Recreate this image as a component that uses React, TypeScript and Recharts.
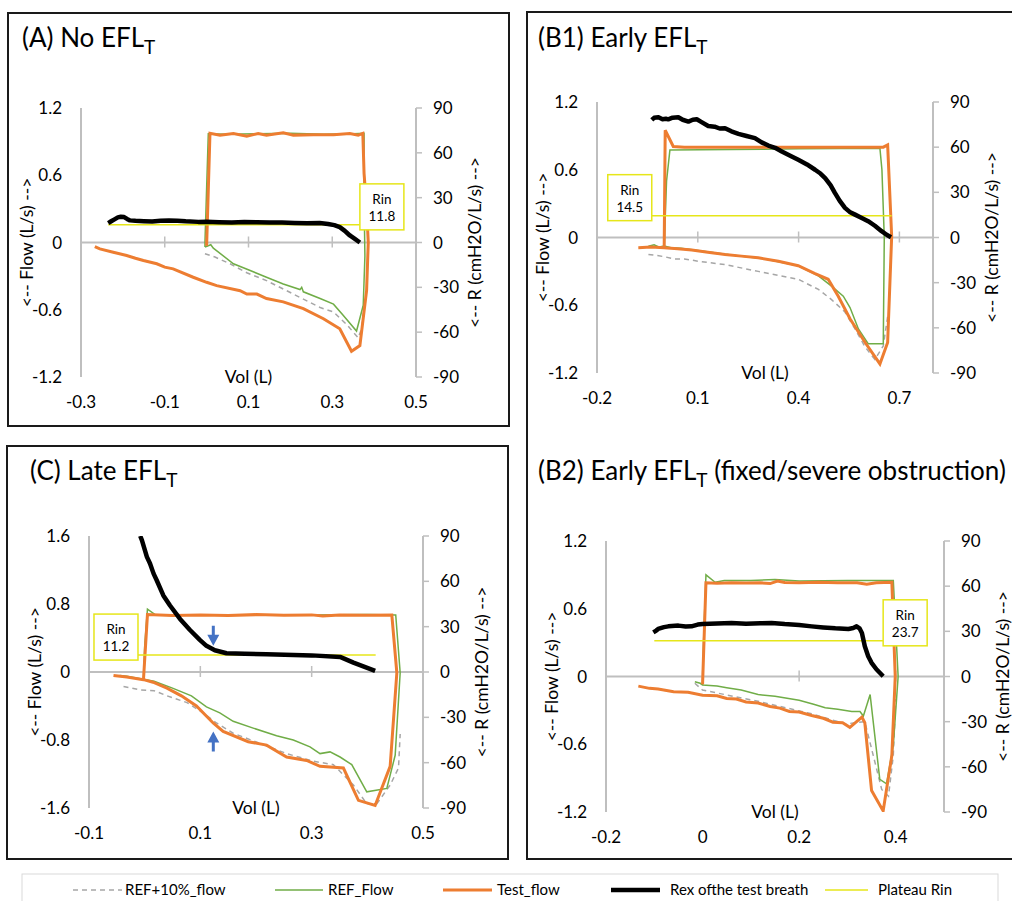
import React from "react";
import { ComposedChart, Line, XAxis, YAxis, ReferenceLine, ReferenceDot } from "recharts";

type P = [number, number];

// ---- (A) No EFL ----
const aRef10: P[] = [[-0.004, -0.1], [0.02, -0.13], [0.056, -0.19], [0.096, -0.27], [0.143, -0.34], [0.191, -0.43], [0.223, -0.49], [0.271, -0.58], [0.303, -0.62], [0.334, -0.73], [0.362, -0.85], [0.37, -0.77], [0.378, -0.52]];
const aRef: P[] = [[-0.004, -0.04], [-0.004, 0.0], [0.004, 0.97], [0.05, 0.965], [0.12, 0.97], [0.2, 0.975], [0.28, 0.965], [0.35, 0.97], [0.376, 0.975], [0.376, 0.38], [0.378, -0.12], [0.374, -0.56], [0.358, -0.79], [0.326, -0.65], [0.303, -0.55], [0.271, -0.5], [0.231, -0.44], [0.227, -0.4], [0.223, -0.42], [0.183, -0.37], [0.143, -0.31], [0.104, -0.25], [0.064, -0.19], [0.016, -0.05], [0.01, -0.02], [-0.004, -0.04]];
const aTest: P[] = [[0.0, -0.03], [0.008, 0.975], [0.032, 0.958], [0.064, 0.973], [0.096, 0.949], [0.123, 0.973], [0.143, 0.958], [0.183, 0.979], [0.207, 0.958], [0.255, 0.961], [0.303, 0.961], [0.342, 0.973], [0.362, 0.958], [0.373, 0.973], [0.376, 0.615], [0.382, 0.316], [0.386, 0.0], [0.382, -0.43], [0.366, -0.92], [0.346, -0.97], [0.318, -0.77], [0.279, -0.68], [0.231, -0.59], [0.183, -0.53], [0.143, -0.5], [0.12, -0.46], [0.096, -0.46], [0.08, -0.43], [0.024, -0.385], [0.0, -0.355], [-0.032, -0.31], [-0.08, -0.235], [-0.1, -0.22], [-0.119, -0.19], [-0.151, -0.16], [-0.17, -0.14], [-0.191, -0.116], [-0.223, -0.087], [-0.255, -0.057], [-0.267, -0.036]];
const aRex: P[] = [[-0.235, 13.0], [-0.228, 14.2], [-0.22, 15.5], [-0.212, 16.8], [-0.205, 17.2], [-0.197, 17.0], [-0.19, 15.8], [-0.183, 14.8], [-0.17, 14.5], [-0.15, 14.2], [-0.13, 14.0], [-0.11, 14.5], [-0.09, 14.8], [-0.07, 14.6], [-0.05, 14.2], [-0.02, 13.8], [0.0, 13.9], [0.03, 13.6], [0.06, 13.4], [0.09, 13.7], [0.12, 13.5], [0.15, 13.3], [0.18, 13.4], [0.21, 13.1], [0.24, 12.9], [0.27, 13.0], [0.29, 12.4], [0.305, 11.6], [0.318, 10.3], [0.33, 7.8], [0.342, 4.7], [0.354, 2.4], [0.366, 0.0]];
const aRinVal = 11.8;
const aRin: P[] = [[-0.235, 11.8], [0.366, 11.8]];

// ---- (B1) Early EFL ----
const b1Ref10: P[] = [[-0.047, -0.15], [-0.02, -0.16], [0.0, -0.17], [0.032, -0.19], [0.06, -0.19], [0.101, -0.21], [0.181, -0.24], [0.28, -0.3], [0.399, -0.37], [0.459, -0.46], [0.498, -0.55], [0.538, -0.66], [0.568, -0.81], [0.598, -0.97], [0.627, -1.08], [0.652, -0.96], [0.665, -0.7]];
const b1Ref: P[] = [[-0.047, -0.077], [-0.03, -0.065], [-0.015, -0.085], [0.0, -0.075], [0.007, 0.5], [0.017, 0.776], [0.2, 0.78], [0.4, 0.785], [0.642, 0.79], [0.648, 0.6], [0.655, 0.0], [0.652, -0.94], [0.607, -0.94], [0.578, -0.81], [0.553, -0.62], [0.533, -0.52], [0.498, -0.43], [0.459, -0.34], [0.399, -0.25], [0.3, -0.19], [0.2, -0.155], [0.1, -0.115], [0.05, -0.095], [0.02, -0.09], [0.0, -0.075]];
const b1Test: P[] = [[0.0, -0.08], [0.003, 0.95], [0.027, 0.806], [0.06, 0.8], [0.15, 0.8], [0.3, 0.8], [0.45, 0.8], [0.6, 0.8], [0.652, 0.8], [0.665, 0.82], [0.677, 0.01], [0.665, -0.93], [0.642, -1.12], [0.598, -0.93], [0.553, -0.72], [0.518, -0.52], [0.488, -0.37], [0.449, -0.32], [0.399, -0.25], [0.34, -0.21], [0.28, -0.18], [0.23, -0.165], [0.181, -0.15], [0.13, -0.13], [0.082, -0.11], [0.04, -0.1], [0.0, -0.09], [-0.04, -0.085], [-0.077, -0.09]];
const b1Rex: P[] = [[-0.037, 78.1], [-0.03, 79.5], [-0.017, 79.9], [-0.005, 78.6], [0.005, 78.9], [0.012, 78.5], [0.025, 79.6], [0.042, 79.9], [0.055, 78.2], [0.072, 77.0], [0.085, 78.2], [0.097, 78.5], [0.11, 76.8], [0.131, 74.1], [0.15, 73.6], [0.165, 72.4], [0.181, 72.6], [0.2, 70.5], [0.221, 68.8], [0.245, 67.4], [0.27, 66.0], [0.29, 63.2], [0.31, 61.1], [0.33, 59.6], [0.35, 57.1], [0.375, 54.3], [0.399, 51.6], [0.425, 48.5], [0.449, 45.0], [0.465, 42.5], [0.479, 39.5], [0.495, 34.8], [0.508, 29.6], [0.522, 24.5], [0.538, 19.7], [0.552, 17.0], [0.568, 15.2], [0.588, 13.0], [0.607, 10.8], [0.627, 7.8], [0.647, 4.2], [0.662, 1.8], [0.675, 0.2]];
const b1RinVal = 14.5;
const b1Rin: P[] = [[-0.037, 14.5], [0.677, 14.5]];

// ---- (C) Late EFL ----
const cRef10: P[] = [[-0.038, -0.17], [-0.008, -0.21], [0.017, -0.22], [0.04, -0.28], [0.076, -0.36], [0.105, -0.48], [0.129, -0.6], [0.159, -0.72], [0.207, -0.84], [0.255, -0.96], [0.303, -1.05], [0.339, -1.09], [0.375, -1.33], [0.399, -1.55], [0.417, -1.55], [0.441, -1.33], [0.456, -1.13], [0.459, -0.73]];
const cRef: P[] = [[-0.045, -0.04], [-0.032, -0.05], [0.017, -0.11], [0.05, -0.19], [0.084, -0.28], [0.111, -0.41], [0.135, -0.48], [0.159, -0.58], [0.195, -0.66], [0.237, -0.75], [0.267, -0.8], [0.297, -0.88], [0.315, -0.96], [0.333, -0.94], [0.351, -1.0], [0.372, -1.09], [0.399, -1.41], [0.435, -1.37], [0.45, -0.98], [0.459, -0.01], [0.451, 0.67], [0.4, 0.675], [0.3, 0.67], [0.2, 0.675], [0.1, 0.67], [0.02, 0.67], [0.005, 0.74], [0.0, 0.3], [-0.002, -0.06]];
const cTest: P[] = [[-0.002, -0.075], [0.005, 0.676], [0.05, 0.665], [0.1, 0.67], [0.15, 0.665], [0.2, 0.675], [0.25, 0.668], [0.3, 0.672], [0.32, 0.66], [0.35, 0.672], [0.4, 0.668], [0.444, 0.67], [0.453, -0.01], [0.441, -1.11], [0.414, -1.57], [0.384, -1.51], [0.357, -1.13], [0.315, -1.11], [0.291, -1.04], [0.255, -1.0], [0.219, -0.86], [0.186, -0.82], [0.141, -0.7], [0.123, -0.6], [0.093, -0.4], [0.066, -0.28], [0.04, -0.19], [0.015, -0.12], [-0.002, -0.09], [-0.032, -0.06], [-0.056, -0.04]];
const cRex: P[] = [[-0.008, 90], [-0.005, 87.3], [0.004, 76.2], [0.0096, 71.8], [0.016, 65.1], [0.0216, 60.7], [0.0335, 50.7], [0.0455, 44.0], [0.0635, 35.1], [0.0814, 27.8], [0.099, 21.3], [0.111, 17.3], [0.126, 14.4], [0.147, 12.4], [0.18, 12.0], [0.219, 11.8], [0.3, 11.0], [0.351, 10.0], [0.375, 6.2], [0.414, 0.7]];
const cRinVal = 11.2;
const cRin: P[] = [[-0.012, 11.2], [0.415, 11.2]];
const cArrowDown: P = [0.1233, 17.3];
const cArrowUp: P = [0.1233, -0.7];

// ---- (B2) Early EFL (fixed/severe obstruction) ----
const b2Ref10: P[] = [[-0.016, -0.06], [0.0, -0.12], [0.115, -0.22], [0.226, -0.33], [0.296, -0.42], [0.336, -0.4], [0.371, -1.0], [0.385, -1.06], [0.395, -0.7], [0.4, -0.2]];
const b2Ref: P[] = [[-0.016, -0.047], [-0.005, -0.06], [0.0, -0.075], [0.03, -0.085], [0.05, -0.1], [0.08, -0.12], [0.115, -0.16], [0.15, -0.175], [0.2, -0.21], [0.23, -0.245], [0.254, -0.276], [0.28, -0.29], [0.309, -0.31], [0.326, -0.31], [0.333, -0.35], [0.347, -0.16], [0.367, -0.91], [0.381, -0.95], [0.395, -0.61], [0.405, 0.0], [0.395, 0.85], [0.3, 0.85], [0.2, 0.845], [0.15, 0.86], [0.1, 0.85], [0.045, 0.85], [0.026, 0.835], [0.007, 0.9], [0.002, 0.3], [0.0, -0.075]];
const b2Test: P[] = [[0.0, -0.07], [0.007, 0.83], [0.03, 0.825], [0.06, 0.83], [0.09, 0.828], [0.12, 0.83], [0.14, 0.823], [0.155, 0.845], [0.17, 0.832], [0.2, 0.83], [0.24, 0.835], [0.28, 0.83], [0.32, 0.83], [0.34, 0.818], [0.36, 0.83], [0.392, 0.835], [0.399, 0.0], [0.392, -0.7], [0.374, -1.19], [0.35, -1.01], [0.336, -0.41], [0.33, -0.36], [0.319, -0.4], [0.305, -0.45], [0.29, -0.41], [0.27, -0.405], [0.25, -0.37], [0.226, -0.345], [0.2, -0.315], [0.18, -0.31], [0.16, -0.28], [0.14, -0.265], [0.115, -0.235], [0.09, -0.225], [0.07, -0.2], [0.05, -0.195], [0.03, -0.17], [0.0, -0.165], [-0.03, -0.14], [-0.06, -0.135], [-0.092, -0.11], [-0.11, -0.105], [-0.133, -0.085]];
const b2Rex: P[] = [[-0.102, 29.3], [-0.096, 30.5], [-0.092, 31.6], [-0.08, 32.8], [-0.071, 33.3], [-0.05, 33.8], [-0.035, 33.2], [-0.023, 33.3], [-0.01, 34.5], [0.0, 34.9], [0.03, 35.2], [0.06, 35.5], [0.09, 35.0], [0.12, 35.3], [0.143, 35.6], [0.17, 34.8], [0.2, 34.2], [0.226, 33.3], [0.25, 32.6], [0.275, 32.0], [0.302, 31.6], [0.312, 32.2], [0.319, 33.3], [0.325, 32.0], [0.33, 28.9], [0.336, 20.1], [0.343, 13.5], [0.35, 9.1], [0.36, 4.8], [0.374, 0.2]];
const b2RinVal = 23.7;
const b2Rin: P[] = [[-0.1, 23.7], [0.374, 23.7]];

const rTicks = [-90, -60, -30, 0, 30, 60, 90];

const FONT = "Lato, 'Open Sans', sans-serif";
const AXIS = "#bfbfbf";
const GRAY = "#a6a6a6";
const GREEN = "#70ad47";
const ORANGE = "#ed7d31";
const YELLOW = "#e6e61a";
const BLUE = "#4472c4";

const toPts = (a: P[]) => a.map(([v, y]) => ({ v, y }));

type Spec = {
  plot: { l: number; t: number; w: number; h: number };
  xDomain: [number, number];
  xTicks: number[];
  fDomain: [number, number];
  fTicks: number[];
  ref10: P[];
  ref: P[];
  test: P[];
  rex: P[];
  rinLine: P[];
  rin: number;
  rinSide: "left" | "right";
  arrows?: { down: P; up: P };
};

const zeroAxis = (dom: [number, number], ticks: number[]) => (p: any) => {
  const { x1, x2, y1 } = p;
  const inner = ticks.filter((t) => t > dom[0] && t < dom[1]);
  return (
    <g>
      <line x1={x1} y1={y1} x2={x2} y2={y1} stroke={AXIS} strokeWidth={2} />
      {inner.map((t) => {
        const x = x1 + ((t - dom[0]) / (dom[1] - dom[0])) * (x2 - x1);
        return <line key={t} x1={x} x2={x} y1={y1 - 6} y2={y1 + 5} stroke={AXIS} strokeWidth={1.5} />;
      })}
    </g>
  );
};

function RinBox({ cx, cy, value, side }: { cx: number; cy: number; value: number; side: "left" | "right" }) {
  const w = 44, h = 46;
  const x = side === "right" ? cx : cx - w;
  const y = cy - 41;
  return (
    <g>
      <rect x={x} y={y} width={w} height={h} fill="#fff" stroke={YELLOW} strokeWidth={1.5} />
      <text x={x + w / 2} y={y + 20} textAnchor="middle" fontFamily={FONT} fontSize={13.5} fill="#000">Rin</text>
      <text x={x + w / 2} y={y + 37} textAnchor="middle" fontFamily={FONT} fontSize={13.5} fill="#000">{value.toFixed(1)}</text>
    </g>
  );
}

const ArrowDown = ({ cx, cy }: any) => (
  <path d={`M${cx - 1.5},${cy - 20} L${cx + 1.5},${cy - 20} L${cx + 1.5},${cy - 11} L${cx + 6},${cy - 11} L${cx},${cy} L${cx - 6},${cy - 11} L${cx - 1.5},${cy - 11} Z`} fill={BLUE} />
);
const ArrowUp = ({ cx, cy }: any) => (
  <path d={`M${cx - 1.5},${cy + 20} L${cx + 1.5},${cy + 20} L${cx + 1.5},${cy + 11} L${cx + 6},${cy + 11} L${cx},${cy} L${cx - 6},${cy + 11} L${cx - 1.5},${cy + 11} Z`} fill={BLUE} />
);

const tickStyle = { fontFamily: FONT, fontSize: 17, fill: "#000" };
const labelStyle = { fontFamily: FONT, fontSize: 17.5, fill: "#000", textAnchor: "middle" as const };

function FlowPanel({ s }: { s: Spec }) {
  const { l, t, w, h } = s.plot;
  const anchor = s.rinSide === "right" ? s.rinLine[s.rinLine.length - 1] : s.rinLine[0];
  return (
    <div style={{ position: "absolute", left: l - 70, top: t - 10 }}>
      <ComposedChart width={w + 140} height={h + 55} margin={{ top: 10, right: 0, bottom: 0, left: 0 }}>
        <XAxis
          dataKey="v"
          type="number"
          domain={s.xDomain}
          ticks={s.xTicks}
          interval={0}
          allowDataOverflow
          height={45}
          axisLine={false}
          tickLine={false}
          tickSize={6}
          tickMargin={13}
          tick={tickStyle}
          label={{ value: "Vol (L)", position: "top", offset: -6, style: labelStyle }}
        />
        <YAxis
          yAxisId="f"
          domain={s.fDomain}
          ticks={s.fTicks}
          interval={0}
          allowDataOverflow
          width={70}
          axisLine={{ stroke: AXIS, strokeWidth: 2 }}
          tickLine={false}
          tickSize={6}
          tickMargin={13}
          tick={tickStyle}
          label={{ value: "<-- Flow (L/s) -->", angle: -90, position: "insideLeft", offset: 16, style: labelStyle }}
        />
        <YAxis
          yAxisId="r"
          orientation="right"
          domain={[-90, 90]}
          ticks={rTicks}
          interval={0}
          allowDataOverflow
          width={70}
          axisLine={{ stroke: AXIS, strokeWidth: 2 }}
          tickLine={{ stroke: AXIS, strokeWidth: 1.5 }}
          tickSize={6}
          tickMargin={11}
          tick={tickStyle}
          label={{ value: "<-- R (cmH2O/L/s) -->", angle: -90, position: "insideRight", offset: 11, style: labelStyle }}
        />
        <ReferenceLine yAxisId="f" y={0} stroke={AXIS} strokeWidth={2} shape={zeroAxis(s.xDomain, s.xTicks)} />
        <Line yAxisId="f" data={toPts(s.ref10)} dataKey="y" stroke={GRAY} strokeWidth={1.5} strokeDasharray="5 4" dot={false} activeDot={false} isAnimationActive={false} type="linear" />
        <Line yAxisId="f" data={toPts(s.ref)} dataKey="y" stroke={GREEN} strokeWidth={1.5} dot={false} activeDot={false} isAnimationActive={false} type="linear" />
        <Line yAxisId="f" data={toPts(s.test)} dataKey="y" stroke={ORANGE} strokeWidth={3} dot={false} activeDot={false} isAnimationActive={false} type="linear" />
        <Line yAxisId="r" data={toPts(s.rinLine)} dataKey="y" stroke={YELLOW} strokeWidth={1.5} dot={false} activeDot={false} isAnimationActive={false} type="linear" />
        <Line yAxisId="r" data={toPts(s.rex)} dataKey="y" stroke="#000" strokeWidth={4.5} strokeLinejoin="round" dot={false} activeDot={false} isAnimationActive={false} type="linear" />
        <ReferenceDot
          yAxisId="r"
          x={anchor[0]}
          y={anchor[1]}
          r={0}
          ifOverflow="visible"
          zIndex={1000}
          shape={(p: any) => <RinBox cx={p.cx} cy={p.cy} value={s.rin} side={s.rinSide} />}
        />
        {s.arrows && (
          <ReferenceDot yAxisId="r" x={s.arrows.down[0]} y={s.arrows.down[1]} r={0} ifOverflow="visible" zIndex={1000} shape={(p: any) => <ArrowDown cx={p.cx} cy={p.cy} />} />
        )}
        {s.arrows && (
          <ReferenceDot yAxisId="f" x={s.arrows.up[0]} y={s.arrows.up[1]} r={0} ifOverflow="visible" zIndex={1000} shape={(p: any) => <ArrowUp cx={p.cx} cy={p.cy} />} />
        )}
      </ComposedChart>
    </div>
  );
}

const flow12 = [-1.2, -0.6, 0, 0.6, 1.2];
const flow16 = [-1.6, -0.8, 0, 0.8, 1.6];

const panels: Spec[] = [
  { plot: { l: 81, t: 108, w: 335, h: 269 }, xDomain: [-0.3, 0.5], xTicks: [-0.3, -0.1, 0.1, 0.3, 0.5], fDomain: [-1.2, 1.2], fTicks: flow12, ref10: aRef10, ref: aRef, test: aTest, rex: aRex, rinLine: aRin, rin: aRinVal, rinSide: "right" },
  { plot: { l: 597, t: 102, w: 336, h: 271 }, xDomain: [-0.2, 0.8], xTicks: [-0.2, 0.1, 0.4, 0.7], fDomain: [-1.2, 1.2], fTicks: flow12, ref10: b1Ref10, ref: b1Ref, test: b1Test, rex: b1Rex, rinLine: b1Rin, rin: b1RinVal, rinSide: "left" },
  { plot: { l: 89, t: 536, w: 334, h: 272 }, xDomain: [-0.1, 0.5], xTicks: [-0.1, 0.1, 0.3, 0.5], fDomain: [-1.6, 1.6], fTicks: flow16, ref10: cRef10, ref: cRef, test: cTest, rex: cRex, rinLine: cRin, rin: cRinVal, rinSide: "left", arrows: { down: cArrowDown, up: cArrowUp } },
  { plot: { l: 606, t: 541, w: 338, h: 271 }, xDomain: [-0.2, 0.5], xTicks: [-0.2, 0, 0.2, 0.4], fDomain: [-1.2, 1.2], fTicks: flow12, ref10: b2Ref10, ref: b2Ref, test: b2Test, rex: b2Rex, rinLine: b2Rin, rin: b2RinVal, rinSide: "right" },
];

const legendItems = [
  { name: "REF+10%_flow", color: GRAY, width: 1.5, dash: "5 4", x0: 73, x1: 122, tx: 125 },
  { name: "REF_Flow", color: GREEN, width: 1.5, dash: undefined, x0: 275, x1: 323, tx: 328 },
  { name: "Test_flow", color: ORANGE, width: 3, dash: undefined, x0: 443, x1: 492, tx: 497 },
  { name: "Rex ofthe test breath", color: "#000", width: 4.5, dash: undefined, x0: 611, x1: 660, tx: 670 },
  { name: "Plateau Rin", color: YELLOW, width: 1.5, dash: undefined, x0: 825, x1: 868, tx: 878 },
];

function Title({ x, y, pre, post }: { x: number; y: number; pre: string; post?: string }) {
  return (
    <text x={x} y={y} fontFamily={FONT} fontSize={26} fill="#000">
      {pre}
      <tspan fontSize={19} dy={6.5}>T</tspan>
      {post ? <tspan dy={-6.5}>{post}</tspan> : null}
    </text>
  );
}

export default function App() {
  const border = "2px solid #1a1a1a";
  return (
    <div style={{ position: "absolute", left: 0, top: 0, width: 1012, height: 901, overflow: "hidden", background: "#fff" }}>
      <div style={{ position: "absolute", left: 7, top: 12, width: 503, height: 415, border, boxSizing: "border-box" }} />
      <div style={{ position: "absolute", left: 6, top: 445, width: 503, height: 415, border, boxSizing: "border-box" }} />
      <div style={{ position: "absolute", left: 526, top: 11, width: 520, height: 849, border, boxSizing: "border-box" }} />
      {panels.map((s, i) => (
        <FlowPanel key={i} s={s} />
      ))}
      <svg width={1012} height={901} style={{ position: "absolute", left: 0, top: 0, pointerEvents: "none" }}>
        <Title x={22} y={47} pre="(A) No EFL" />
        <Title x={538} y={47} pre="(B1) Early EFL" />
        <Title x={30} y={480} pre="(C) Late EFL" />
        <Title x={538} y={480} pre="(B2) Early EFL" post=" (fixed/severe obstruction)" />
        <rect x={22} y={874} width={976} height={40} fill="none" stroke="#d9d9d9" strokeWidth={1} />
        {legendItems.map((it) => (
          <g key={it.name}>
            <line x1={it.x0} x2={it.x1} y1={890} y2={890} stroke={it.color} strokeWidth={it.width} strokeDasharray={it.dash} />
            <text x={it.tx} y={895} fontFamily={FONT} fontSize={15} fill="#000">{it.name}</text>
          </g>
        ))}
      </svg>
    </div>
  );
}
